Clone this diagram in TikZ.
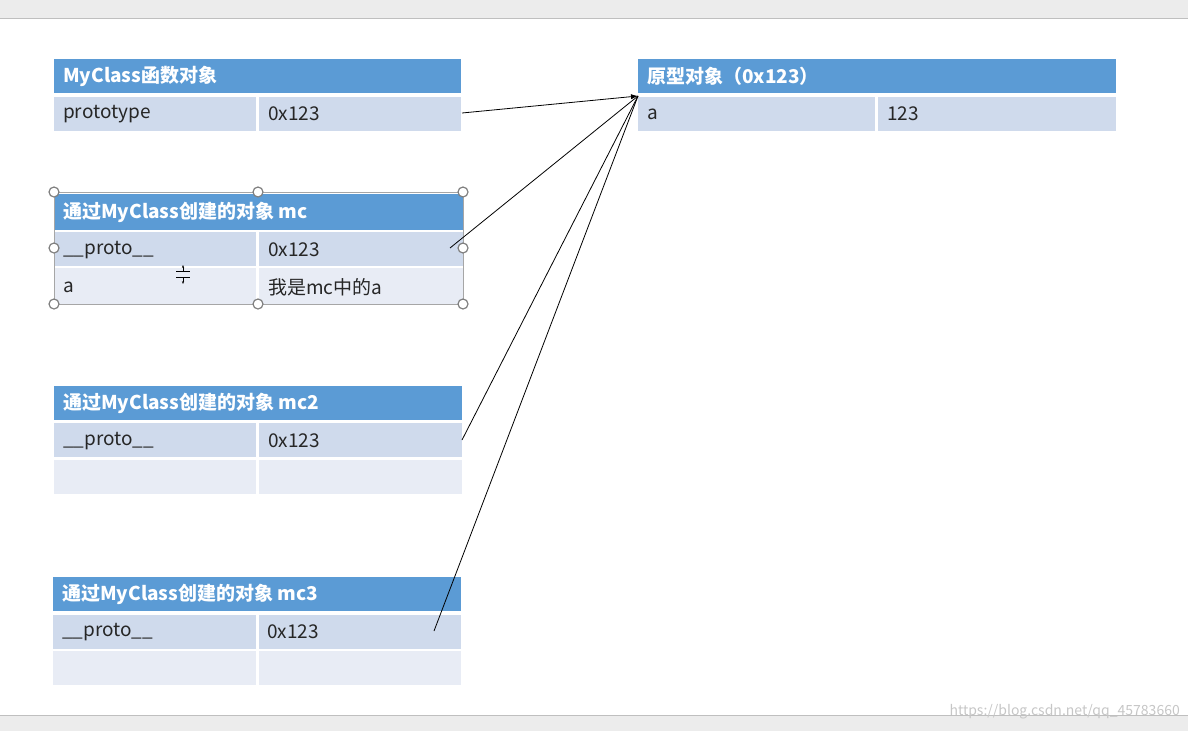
\documentclass[tikz,border=0pt]{standalone}
\usepackage{fontspec}
\usetikzlibrary{arrows.meta}
\setmainfont{Noto Sans CJK SC}
\begin{document}
\begin{tikzpicture}[x=1pt,y=-1pt,
  hdr/.style={fill=hblue,draw=none},
  r1/.style={fill=rowa,draw=none},
  r2/.style={fill=rowb,draw=none},
  htxt/.style={anchor=west,text=white,font=\fontsize{19}{22}\selectfont\bfseries,inner sep=0},
  ctxt/.style={anchor=west,text=black!85,font=\fontsize{19}{22}\selectfont,inner sep=0},
  handle/.style={circle,draw=gray,fill=white,line width=1.2pt,minimum size=10pt,inner sep=0},
  link/.style={draw=black,line width=0.8pt}]
\definecolor{hblue}{HTML}{5B9BD5}
\definecolor{rowa}{HTML}{CFDAEC}
\definecolor{rowb}{HTML}{E8ECF5}
\useasboundingbox (0,0) rectangle (1188,731);
\fill[gray!15] (0,0) rectangle (1188,18);
\fill[gray!15] (0,715) rectangle (1188,731);
\draw[gray!50] (0,18) -- (1188,18);
\draw[gray!50] (0,715) -- (1188,715);
% table 1
\fill[hdr] (54,59) rectangle (461,93);
\fill[r1] (54,97) rectangle (256,131); \fill[r1] (259,97) rectangle (461,131);
\node[htxt] (t1h) at (63,76) {MyClass函数对象};
\node[ctxt] (t1a) at (63,114) {prototype};
\node[ctxt] (t1b) at (268,114) {0x123};
\coordinate (s1) at (462,113);
% prototype
\fill[hdr] (638,59) rectangle (1116,93);
\fill[r1] (638,97) rectangle (875,131); \fill[r1] (878,97) rectangle (1116,131);
\node[htxt] (ph) at (647,76) {原型对象（0x123）};
\node[ctxt] (pa) at (647,114) {a};
\node[ctxt] (pb) at (887,114) {123};
\coordinate (tgt) at (638,96);
% table 2
\fill[hdr] (54,194) rectangle (463,230);
\fill[r1] (54,232) rectangle (256,266); \fill[r1] (259,232) rectangle (463,266);
\fill[r2] (54,268) rectangle (256,304); \fill[r2] (259,268) rectangle (463,304);
\draw[gray!70] (54,192) rectangle (463,304);
\node[htxt] (t2h) at (63,212) {通过MyClass创建的对象 mc};
\node[ctxt] (t2a) at (63,250) {\_\_proto\_\_};
\node[ctxt] (t2b) at (268,250) {0x123};
\node[ctxt] (t2c) at (63,287) {a};
\node[ctxt] (t2d) at (268,287) {我是mc中的a};
\foreach \p/\q [count=\i] in {54/192,258/192,463/192,54/248,463/248,54/304,258/304,463/304}
  \node[handle] (h\i) at (\p,\q) {};
\draw[line width=1pt] (176,271) -- (190,271) (176,277) -- (190,277);
\draw[line width=1pt,-{Stealth[length=3pt]}] (183,271) -- (183,265);
\draw[line width=1pt,-{Stealth[length=3pt]}] (183,277) -- (183,284);
\coordinate (s2) at (450,248);
% table 3
\fill[hdr] (54,386) rectangle (462,420);
\fill[r1] (54,423) rectangle (256,457); \fill[r1] (259,423) rectangle (462,457);
\fill[r2] (54,460) rectangle (256,494); \fill[r2] (259,460) rectangle (462,494);
\node[htxt] (t3h) at (63,403) {通过MyClass创建的对象 mc2};
\node[ctxt] (t3a) at (63,441) {\_\_proto\_\_};
\node[ctxt] (t3b) at (268,441) {0x123};
\coordinate (s3) at (462,440);
% table 4
\fill[hdr] (53,577) rectangle (461,611);
\fill[r1] (53,615) rectangle (256,649); \fill[r1] (259,615) rectangle (461,649);
\fill[r2] (53,651) rectangle (256,685); \fill[r2] (259,651) rectangle (461,685);
\node[htxt] (t4h) at (62,594) {通过MyClass创建的对象 mc3};
\node[ctxt] (t4a) at (62,632) {\_\_proto\_\_};
\node[ctxt] (t4b) at (267,632) {0x123};
\coordinate (s4) at (434,631);
% links
\draw[link,-{Latex[length=7pt]}] (s1) -- (tgt);
\draw[link] (s2) -- (tgt);
\draw[link] (s3) -- (tgt);
\draw[link] (s4) -- (tgt);
\node[anchor=east,text=gray!45,font=\fontsize{14}{16}\selectfont,inner sep=0] (wm) at (1180,712) {https://blog.csdn.net/qq\_45783660};
\end{tikzpicture}
\end{document}
